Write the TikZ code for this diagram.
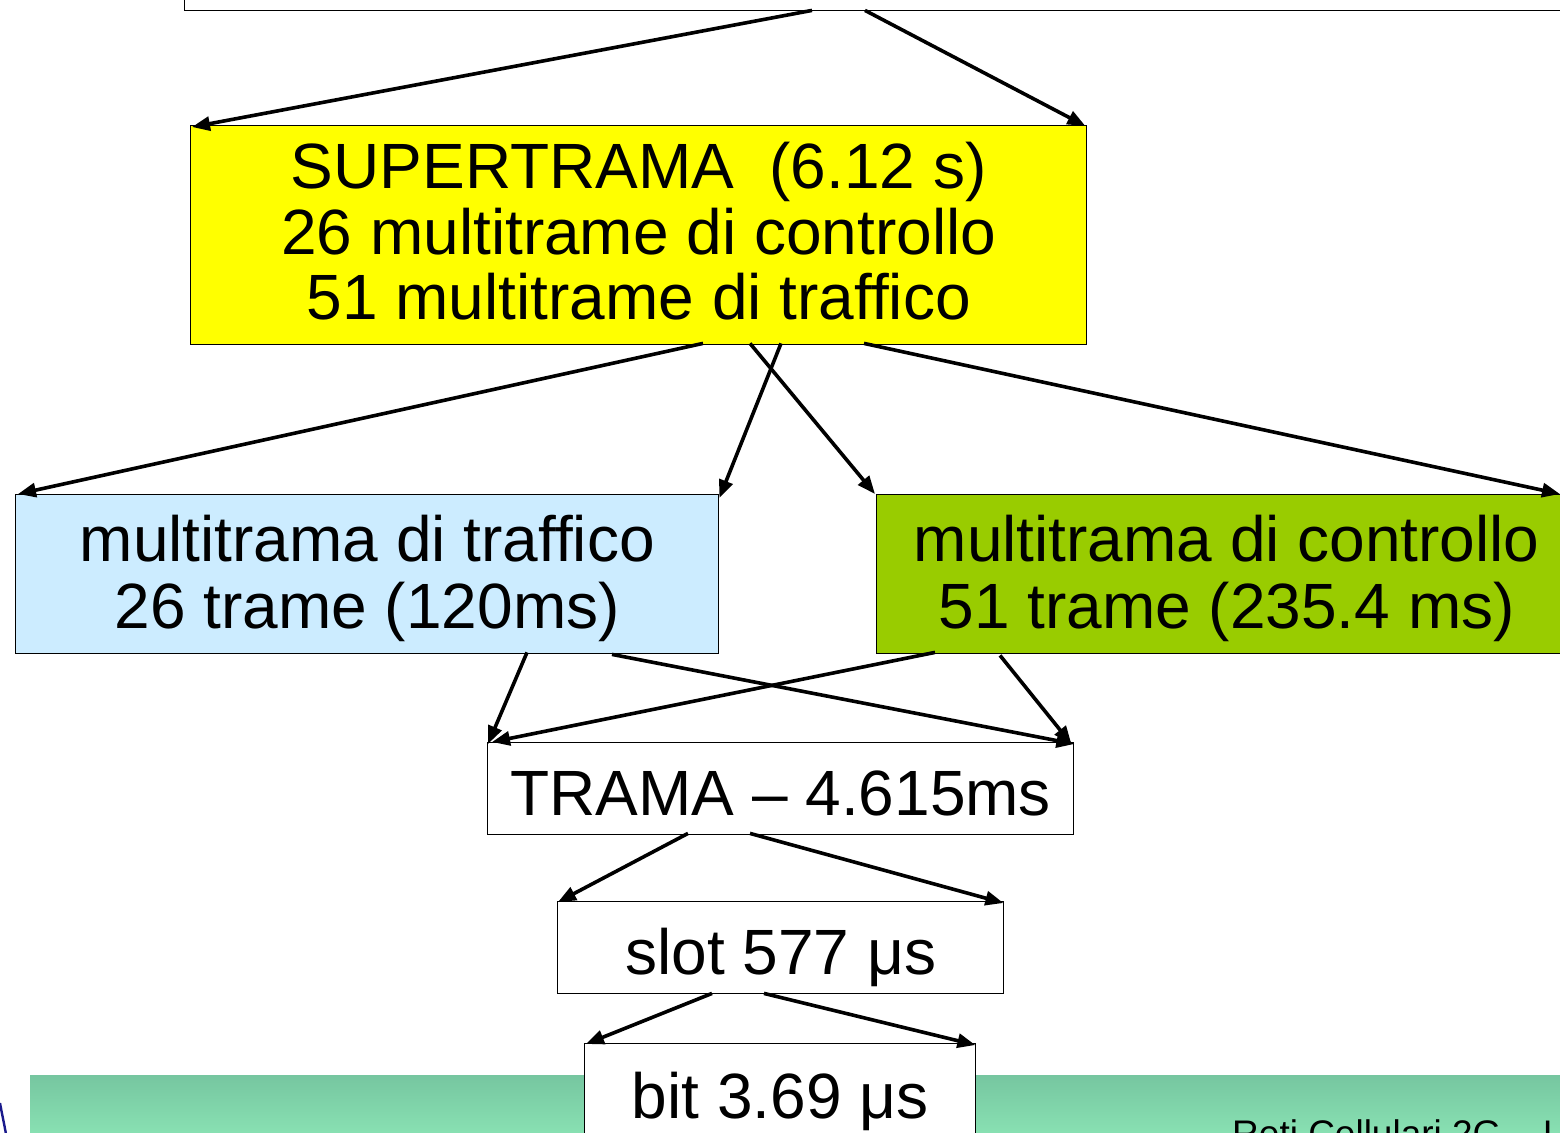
\documentclass[tikz,border=0pt]{standalone}
\usepackage{fontspec}
\setmainfont{Liberation Sans}
\usetikzlibrary{arrows.meta}
\definecolor{supyellow}{HTML}{FFFF00}
\definecolor{trafblue}{HTML}{CCECFF}
\definecolor{ctrlgreen}{HTML}{99CC00}
\definecolor{bandtop}{HTML}{76C6A0}
\definecolor{bandbot}{HTML}{88E0B2}
\definecolor{logoblue}{HTML}{1A1A8C}
\tikzset{
  box/.style={draw=black, line width=1.4pt, inner sep=0pt, anchor=north west},
  txt/.style={inner sep=0pt, align=center, font=\fontsize{64}{65.5}\selectfont},
  conn/.style={line width=3.6pt, -{Triangle[length=18pt,width=14pt]}},
}
\begin{document}
\begin{tikzpicture}[x=1pt,y=-1pt]
\useasboundingbox (0,0) rectangle (1560,1132);
\clip (0,0) rectangle (1560,1132);
% footer band
\shade[top color=bandtop, bottom color=bandbot] (30,1075) rectangle (1560,1132);
\node[anchor=base west, inner sep=0pt, font=\fontsize{37}{40}\selectfont] (foot) at (1232,1146) {Reti Cellulari 2G -- I};
\draw[logoblue, line width=2.4pt] (0,1103) .. controls (2,1114) and (4,1123) .. (6,1134);
% boxes
\node[box, minimum width=1420pt, minimum height=50pt] (top) at (184,-40) {};
\node[box, fill=supyellow, minimum width=896pt, minimum height=219pt] (sup) at (190,125) {};
\node[box, fill=trafblue, minimum width=703pt, minimum height=159pt] (traf) at (15,494) {};
\node[box, fill=ctrlgreen, minimum width=700pt, minimum height=159pt] (ctrl) at (876,494) {};
\node[box, fill=white, minimum width=586pt, minimum height=92pt] (trama) at (487,742) {};
\node[box, fill=white, minimum width=446pt, minimum height=92pt] (slot) at (557,901) {};
\node[box, fill=white, minimum width=391pt, minimum height=120pt] (bit) at (584,1043) {};
% texts
\node[txt] (supt) at ([yshift=4pt]sup.center)
  {SUPERTRAMA\ \ (6.12 s)\\26 multitrame di controllo\\51 multitrame di traffico};
\node[txt, font=\fontsize{64}{67}\selectfont] (traft) at ([yshift=-4pt]traf.center)
  {multitrama di traffico\\26 trame (120ms)};
\node[txt, font=\fontsize{64}{67}\selectfont] (ctrlt) at ([yshift=-4pt]ctrl.center)
  {multitrama di controllo\\51 trame (235.4 ms)};
\node[txt] (tramat) at ([yshift=-5pt]trama.center) {TRAMA -- 4.615ms};
\node[txt] (slott) at ([yshift=-10pt]slot.center) {slot 577 μs};
\node[txt] (bitt) at ([yshift=2pt]bit.center) {bit 3.69 μs};
% connectors
\draw[conn] ([xshift=628pt,yshift=1pt]top.south west) -- ([xshift=2pt,yshift=-2pt]sup.north west);
\draw[conn] ([xshift=681pt,yshift=1pt]top.south west) -- ([xshift=-2pt,yshift=-1pt]sup.north east);
\draw[conn] ([xshift=513pt,yshift=2pt]sup.south west) -- ([xshift=3pt]traf.north west);
\draw[conn] ([xshift=591pt,yshift=2pt]sup.south west) -- ([xshift=0pt,yshift=-4pt]traf.north east);
\draw[conn] ([xshift=560pt,yshift=2pt]sup.south west) -- ([xshift=-1pt]ctrl.north west);
\draw[conn] ([xshift=674pt,yshift=2pt]sup.south west) -- ([xshift=684pt]ctrl.north west);
\draw[conn] ([xshift=512pt,yshift=2pt]traf.south west) -- ([xshift=1pt,yshift=-2pt]trama.north west);
\draw[conn] ([xshift=597pt]traf.south west) -- ([yshift=-2pt]trama.north east);
\draw[conn] ([xshift=59pt,yshift=2pt]ctrl.south west) -- ([xshift=5pt]trama.north west);
\draw[conn] ([xshift=124pt,yshift=-1pt]ctrl.south west) -- ([xshift=-3pt,yshift=-2pt]trama.north east);
\draw[conn] ([xshift=201pt,yshift=2pt]trama.south west) -- ([xshift=1pt,yshift=-1pt]slot.north west);
\draw[conn] ([xshift=263pt,yshift=2pt]trama.south west) -- ([xshift=-1pt,yshift=-2pt]slot.north east);
\draw[conn] ([xshift=155pt,yshift=1pt]slot.south west) -- ([xshift=2pt,yshift=-1pt]bit.north west);
\draw[conn] ([xshift=207pt,yshift=1pt]slot.south west) -- ([xshift=-1pt,yshift=-2pt]bit.north east);
\end{tikzpicture}
\end{document}
